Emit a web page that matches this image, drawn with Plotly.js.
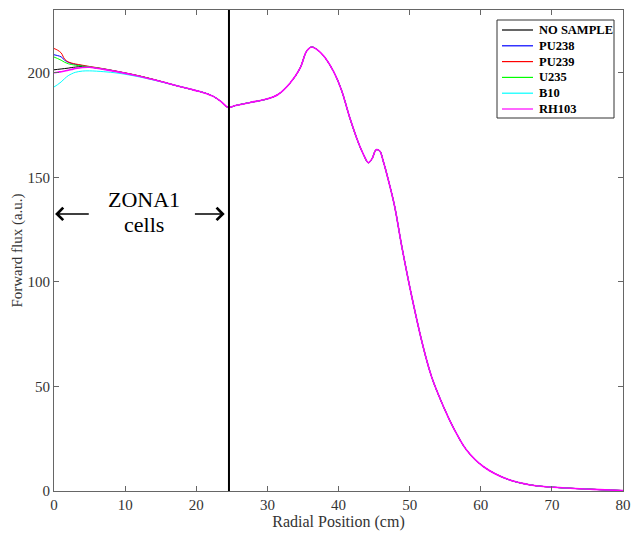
<!DOCTYPE html>
<html>
<head>
<meta charset="utf-8">
<script src="https://cdn.plot.ly/plotly-3.0.1.min.js"></script>
<style>html,body{margin:0;padding:0;background:#fff;}#chart{width:632px;height:534px;}</style>
</head>
<body>
<div id="chart"></div>
<script>
// Radial positions (cm) of the inner region where samples differ
const xStart = [0, 0.5, 1, 1.5, 2, 2.5, 3, 4, 5, 7, 9, 12, 15];
const noSampleStart = [201.4, 201.6, 201.8, 202.0, 202.2, 202.5, 202.7, 203.0, 202.7, 201.7, 200.5, 198.4, 195.9];
const pu238Start   = [208.6, 208.2, 207.6, 206.0, 205.0, 204.4, 204.0, 203.4, 202.8, 201.8, 200.5, 198.4, 195.8];
const pu239Start   = [211.6, 210.8, 209.5, 206.5, 205.2, 204.6, 204.2, 203.6, 203.0, 201.9, 200.6, 198.5, 195.9];
const u235Start    = [207.5, 206.8, 206.0, 205.0, 204.3, 203.9, 203.6, 203.2, 202.8, 201.8, 200.5, 198.4, 195.8];
const b10Start     = [193.2, 194.3, 195.6, 197.2, 198.6, 199.5, 200.2, 200.8, 200.9, 200.5, 199.8, 198.0, 195.7];
const rh103Start   = [200.0, 200.2, 200.5, 200.8, 201.2, 201.6, 202.0, 202.5, 202.6, 201.6, 200.4, 198.3, 195.8];

// Common outer part (all samples coincide)
const xTail = [17, 19, 20.5, 21.5, 22.4, 23.5, 24.5, 25.5, 27.6, 29.9, 31.5, 33.2, 34.6, 35.5, 36.2, 36.9, 37.9, 39.3, 40.4, 41.6, 42.8, 43.5, 44.2, 44.7, 45.3, 45.8, 46.3, 47, 47.9, 48.9, 50.3, 51.9, 53.1, 54.3, 55.2, 56.2, 58, 60.4, 63.7, 67, 70.2, 75.8, 80];
const fluxTail = [194.0, 192.3, 191.0, 190.0, 188.7, 186.2, 183.4, 184.3, 185.8, 187.4, 189.6, 195.1, 202.2, 210.2, 212.3, 211.3, 208.1, 200.6, 191.9, 178.3, 166.5, 161.0, 157.0, 158.8, 163.2, 162.6, 157.6, 148.8, 136.0, 116.9, 93.0, 69.0, 54.5, 44.0, 37.0, 30.0, 19.6, 11.6, 5.7, 2.9, 1.8, 0.8, 0.2];

const seriesNames = ['NO SAMPLE', 'PU238', 'PU239', 'U235', 'B10', 'RH103'];
const seriesStarts = [noSampleStart, pu238Start, pu239Start, u235Start, b10Start, rh103Start];
const seriesColors = ['#000000', '#0000ff', '#ff0000', '#00ff00', '#00ffff', '#ff00ff'];

const zoneBoundary = 24.6;
const zoneLabel = 'ZONA1';
const zoneSub = 'cells';

const xTicks = [0, 10, 20, 30, 40, 50, 60, 70, 80];
const yTicks = [0, 50, 100, 150, 200];

const W = 632, H = 534;
const M = {l: 54, r: 9, t: 10, b: 43};
const pw = W - M.l - M.r, ph = H - M.t - M.b;
const px2x = p => (p - M.l) / pw;
const px2y = p => (H - M.b - p) / ph;

const xAll = xStart.concat(xTail);
const traces = seriesNames.map((n, i) => ({
  x: xAll,
  y: seriesStarts[i].concat(fluxTail),
  name: n,
  type: 'scatter',
  mode: 'lines',
  line: {color: seriesColors[i], width: i === seriesNames.length - 1 ? 1.6 : 1.0, shape: 'spline', smoothing: 1.0}
}));

const serif = 'Liberation Serif';
const axisCommon = {
  showline: true, linecolor: '#666', linewidth: 1, mirror: 'ticks',
  ticks: 'inside', ticklen: 5, tickcolor: '#666',
  showgrid: false, zeroline: false,
  tickfont: {family: serif, size: 15, color: '#333'}
};

// Manual legend (box, sample lines and labels)
const legBox = {left: 497, right: 614, top: 20, bottom: 118};
const legRow0 = 30, legRowStep = 15.8, legLine0 = 502, legLine1 = 533, legText = 537;
const shapes = [{
  type: 'line', xref: 'x', yref: 'paper', x0: zoneBoundary, x1: zoneBoundary, y0: 0, y1: 1,
  line: {color: '#000', width: 2}
}, {
  type: 'rect', xref: 'paper', yref: 'paper',
  x0: px2x(legBox.left), x1: px2x(legBox.right), y0: px2y(legBox.bottom), y1: px2y(legBox.top),
  line: {color: '#333', width: 1}, fillcolor: '#fff', layer: 'above'
}];
const annotations = [
  {x: 12.6, y: 139.5, xref: 'x', yref: 'y', text: zoneLabel, showarrow: false,
   font: {family: serif, size: 22, color: '#000'}},
  {x: 12.6, y: 127.5, xref: 'x', yref: 'y', text: zoneSub, showarrow: false,
   font: {family: serif, size: 22, color: '#000'}},
  {x: 0.15, y: 132.5, ax: 5.1, ay: 132.5, xref: 'x', yref: 'y', axref: 'x', ayref: 'y',
   text: '', showarrow: true, arrowhead: 4, arrowsize: 1.6, arrowwidth: 1.5, arrowcolor: '#000'},
  {x: 24.0, y: 132.5, ax: 19.6, ay: 132.5, xref: 'x', yref: 'y', axref: 'x', ayref: 'y',
   text: '', showarrow: true, arrowhead: 4, arrowsize: 1.6, arrowwidth: 1.5, arrowcolor: '#000'}
];
seriesNames.forEach((n, i) => {
  const yy = px2y(legRow0 + i * legRowStep);
  shapes.push({type: 'line', xref: 'paper', yref: 'paper', x0: px2x(legLine0), x1: px2x(legLine1),
    y0: yy, y1: yy, line: {color: seriesColors[i], width: 1.2}, layer: 'above'});
  annotations.push({xref: 'paper', yref: 'paper', x: px2x(legText), y: yy, xanchor: 'left', yanchor: 'middle',
    text: '<b>' + n + '</b>', showarrow: false, font: {family: serif, size: 12.5, color: '#000'}});
});

const layout = {
  width: W, height: H,
  margin: M,
  paper_bgcolor: '#fff', plot_bgcolor: '#fff',
  showlegend: false,
  xaxis: Object.assign({}, axisCommon, {
    range: [0, 80], tickvals: xTicks,
    title: {text: 'Radial Position (cm)', font: {family: serif, size: 16, color: '#333'}, standoff: 3}
  }),
  yaxis: Object.assign({}, axisCommon, {
    range: [0, 230], tickvals: yTicks,
    title: {text: 'Forward flux (a.u.)', font: {family: serif, size: 15, color: '#333'}, standoff: 1}
  }),
  shapes: shapes,
  annotations: annotations
};

Plotly.newPlot('chart', traces, layout, {displayModeBar: false, staticPlot: true});
</script>
</body>
</html>
